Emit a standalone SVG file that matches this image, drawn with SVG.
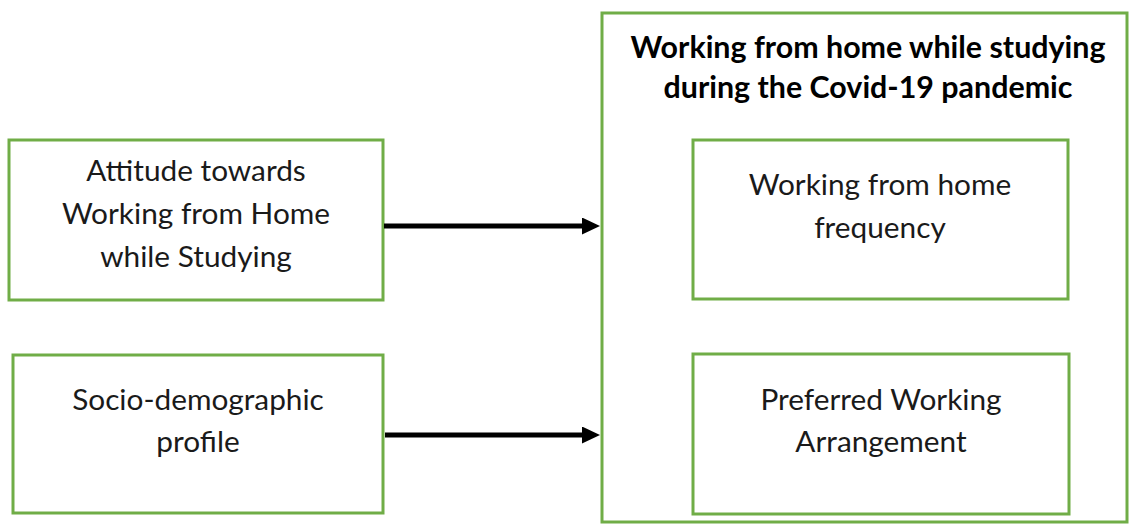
<svg xmlns="http://www.w3.org/2000/svg" width="1129" height="525" viewBox="0 0 1129 525">
<style>
.box{fill:#fff;stroke:#70AD47;stroke-width:3}
.t{font-family:Lato,"Liberation Sans",sans-serif;font-size:29.8px;fill:#1a1a1a;text-anchor:middle}
.b{font-family:Lato,"Liberation Sans",sans-serif;font-size:30.4px;font-weight:bold;fill:#000;text-anchor:middle}
.c{stroke:#000;stroke-width:5;fill:none}
</style>
<defs>
<marker id="ah" markerWidth="18" markerHeight="17" refX="1" refY="8.5" orient="auto" markerUnits="userSpaceOnUse" viewBox="0 0 18 17">
<path d="M0,0 L18,8.5 L0,17 z" fill="#000"/>
</marker>
</defs>
<rect width="1129" height="525" fill="#fff"/>
<g id="outer">
<rect class="box" x="602" y="13" width="525" height="509"/>
<text class="b" x="868" y="58">Working from home while studying</text>
<text class="b" x="868" y="98">during the Covid-19 pandemic</text>
</g>
<g id="attitude">
<rect class="box" x="9" y="140" width="374" height="160"/>
<text class="t" x="196" y="181">Attitude towards</text>
<text class="t" x="196" y="224">Working from Home</text>
<text class="t" x="196" y="267">while Studying</text>
</g>
<g id="socio">
<rect class="box" x="13" y="355" width="370" height="158"/>
<text class="t" x="198" y="410">Socio-demographic</text>
<text class="t" x="198" y="452">profile</text>
</g>
<g id="frequency">
<rect class="box" x="693" y="140" width="375" height="159"/>
<text class="t" x="880" y="195">Working from home</text>
<text class="t" x="880" y="238">frequency</text>
</g>
<g id="arrangement">
<rect class="box" x="693" y="354" width="376" height="160"/>
<text class="t" x="881" y="410">Preferred Working</text>
<text class="t" x="881" y="452">Arrangement</text>
</g>
<g id="connectors">
<line class="c" x1="384" y1="226" x2="583" y2="226" marker-end="url(#ah)"/>
<line class="c" x1="385" y1="435" x2="583" y2="435" marker-end="url(#ah)"/>
</g>
</svg>
